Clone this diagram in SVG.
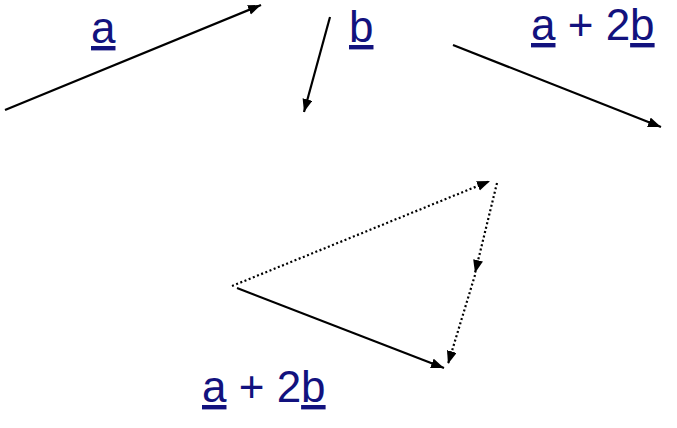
<svg xmlns="http://www.w3.org/2000/svg" width="677" height="428" viewBox="0 0 677 428">
<style>
.lbl{font-family:"Liberation Sans",Arial,sans-serif;font-size:44px;fill:#12127e}
.u{text-decoration:underline}
.v{stroke:#000;stroke-width:2.2;fill:none;marker-end:url(#ah)}
.d{stroke-dasharray:2 2.5}
</style>
<defs>
<marker id="ah" markerUnits="userSpaceOnUse" markerWidth="15" markerHeight="11" refX="13" refY="5" orient="auto">
<path d="M0,0 L13,5 L0,10 z" fill="#000"/>
</marker>
</defs>
<rect width="677" height="428" fill="#fff"/>
<g id="connectors">
<line class="v" x1="5" y1="110" x2="261" y2="5"/>
<line class="v" x1="330" y1="17" x2="304" y2="112"/>
<line class="v" x1="453" y1="45" x2="661" y2="127"/>
<line class="v d" x1="232" y1="286" x2="490" y2="181"/>
<line class="v d" x1="497" y1="183" x2="475" y2="273"/>
<line class="v d" x1="475" y1="275" x2="448" y2="364"/>
<line class="v" x1="237" y1="288" x2="444" y2="368"/>
</g>
<g id="label-a"><text class="lbl" x="91" y="43"><tspan class="u">a</tspan></text></g>
<g id="label-b"><text class="lbl" x="349" y="42"><tspan class="u">b</tspan></text></g>
<g id="label-sum-top"><text class="lbl" x="531" y="40"><tspan class="u">a</tspan> + 2<tspan class="u">b</tspan></text></g>
<g id="label-sum-bottom"><text class="lbl" x="202" y="402"><tspan class="u">a</tspan> + 2<tspan class="u">b</tspan></text></g>
</svg>
